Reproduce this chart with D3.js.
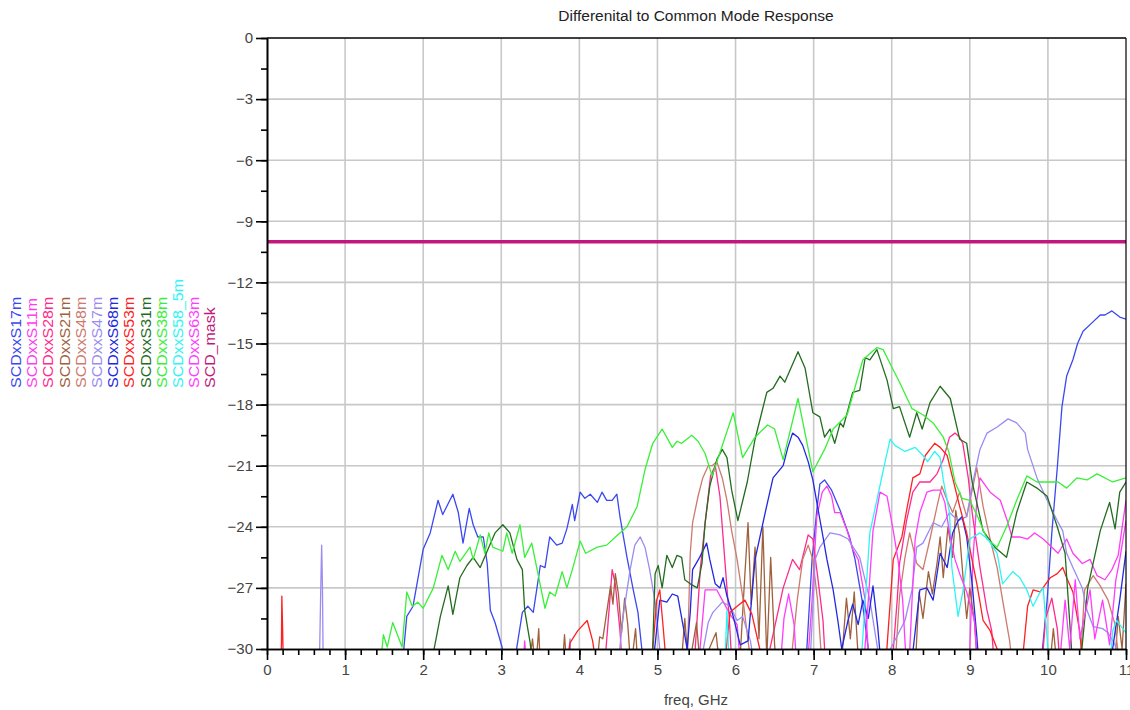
<!DOCTYPE html>
<html>
<head>
<meta charset="utf-8">
<script src="https://cdn.jsdelivr.net/npm/d3@7"></script>
<style>
  body { margin: 0; background: #fff; }
  text { font-family: "Liberation Sans", Arial, sans-serif; }
</style>
</head>
<body>
<svg id="chart" width="1130" height="710"></svg>
<script>
// values: [freq GHz, dB]; points below -30 are clipped away
const s17m = [[1.70,-32],[1.74,-30.5],[1.79,-28.4],[1.87,-27.9],[2.0,-25.1],[2.09,-24.3],[2.19,-22.7],[2.25,-23.4],[2.38,-22.4],[2.45,-23.3],[2.51,-24.8],[2.59,-23.1],[2.64,-23.9],[2.7,-24.5],[2.77,-24.5],[2.82,-25.8],[2.86,-28.1],[2.92,-28.7],[3.01,-29.9],[3.06,-31.5],[3.15,-32],[3.2,-29.9],[3.27,-28.2],[3.34,-27.9],[3.41,-28.2],[3.5,-25.9],[3.56,-26.0],[3.62,-24.5],[3.71,-24.9],[3.78,-24.8],[3.84,-24.1],[3.91,-22.9],[3.94,-23.7],[4.01,-22.3],[4.07,-22.6],[4.14,-22.4],[4.23,-22.8],[4.29,-22.3],[4.35,-22.7],[4.42,-22.7],[4.48,-22.4],[4.52,-23.5],[4.61,-25.5],[4.69,-27.1],[4.75,-28.2],[4.8,-30.0],[4.86,-32],[6.0,-34],[6.89,-31.5],[6.98,-25.6],[7.04,-23.2],[7.08,-21.9],[7.14,-21.7],[7.23,-22.2],[7.34,-23.2],[7.46,-24.5],[7.53,-25.6],[7.62,-27.6],[7.7,-30],[7.76,-32],[9.0,-34],[9.88,-32],[9.93,-30],[9.99,-27.6],[10.05,-24.3],[10.12,-21.1],[10.18,-18.1],[10.24,-16.6],[10.32,-15.8],[10.38,-15.0],[10.45,-14.4],[10.56,-14.0],[10.67,-13.6],[10.73,-13.6],[10.82,-13.4],[10.92,-13.7],[11.0,-13.8]];

const s11m = [[3.27,-31.5],[3.3,-29.6],[3.33,-31.5],[5.5,-32],[5.61,-27.1],[5.7,-27.1],[5.76,-27.1],[5.83,-27.6],[5.93,-28.3],[6.02,-28.8],[6.08,-31.5],[6.9,-32],[6.98,-27.6],[7.04,-23.5],[7.11,-22.3],[7.17,-22.0],[7.23,-22.5],[7.27,-23.3],[7.34,-23.3],[7.43,-24.2],[7.5,-25.1],[7.57,-25.6],[7.66,-27.6],[7.73,-32],[8.95,-32],[9.0,-30],[9.04,-25.6],[9.09,-22.7],[9.13,-21.6],[9.26,-22.3],[9.39,-22.7],[9.48,-23.7],[9.54,-24.5],[9.64,-24.5],[9.74,-24.6],[9.83,-24.3],[9.94,-24.6],[10.05,-25.0],[10.13,-25.3],[10.24,-24.6],[10.32,-25.3],[10.44,-25.8],[10.54,-25.6],[10.63,-26.4],[10.73,-26.6],[10.82,-26.1],[10.9,-25.4],[11.0,-22.7]];

const s28m = [[4.3,-32],[4.39,-27.6],[4.42,-26.1],[4.46,-26.8],[4.52,-29.1],[4.57,-32],[5.45,-32],[5.55,-26.0],[5.62,-23.5],[5.68,-21.5],[5.74,-21.0],[5.8,-22.5],[5.86,-25.5],[5.92,-28.5],[5.97,-32],[6.4,-32],[6.44,-30],[6.61,-27],[6.73,-25.6],[6.82,-26.1],[6.93,-24.4],[6.99,-24.6],[7.05,-26.4],[7.12,-28.6],[7.17,-32],[7.98,-32],[8.07,-27.6],[8.1,-25.8],[8.19,-23.7],[8.27,-22.3],[8.36,-21.8],[8.49,-21.8],[8.58,-21.4],[8.66,-20.7],[8.74,-19.6],[8.81,-19.4],[8.87,-19.6],[8.91,-19.9],[8.98,-21.6],[9.03,-23.3],[9.13,-26.0],[9.22,-28.1],[9.28,-29.1],[9.34,-32],[9.9,-32],[9.97,-28.5],[10.05,-27.5],[10.12,-29],[10.18,-32]];

const s21m = [[3.35,-31],[3.4,-29.5],[3.44,-31],[3.48,-29],[3.5,-31],[3.78,-31],[3.81,-29.3],[3.84,-31],[4.22,-31],[4.26,-29.4],[4.3,-29.5],[4.35,-28.2],[4.4,-26.9],[4.43,-27.8],[4.46,-26.3],[4.5,-27.3],[4.54,-29.2],[4.58,-27.5],[4.62,-28.8],[4.66,-31],[4.72,-29],[4.75,-31],[5.3,-31],[5.35,-28.5],[5.4,-31],[5.5,-28.7],[5.55,-31],[5.75,-29.2],[5.8,-31],[6.05,-31],[6.12,-26.3],[6.16,-23.8],[6.2,-27.8],[6.25,-25.0],[6.3,-29.5],[6.35,-24.0],[6.4,-30.5],[6.45,-25.5],[6.5,-29.8],[6.53,-31],[7.35,-31],[7.42,-27.5],[7.47,-29.5],[7.52,-27.2],[7.58,-31],[8.3,-31],[8.35,-27.2],[8.4,-28.5],[8.47,-26.2],[8.52,-27.3],[8.58,-25.8],[8.62,-24.5],[8.66,-26.5],[8.72,-24.0],[8.78,-25.5],[8.82,-23.2],[8.87,-24.4],[8.92,-26.8],[8.96,-28.5],[9.0,-27.0],[9.06,-28.7],[9.1,-31],[10.02,-31],[10.07,-29],[10.12,-31],[10.85,-31],[10.9,-28.4],[10.95,-30],[11.0,-26.8]];

const s48m = [[5.38,-31],[5.42,-25.3],[5.45,-23.8],[5.52,-22.5],[5.58,-21.6],[5.65,-21.0],[5.7,-21.0],[5.76,-20.8],[5.83,-21.6],[5.89,-22.7],[5.95,-24.2],[6.02,-25.6],[6.09,-27.4],[6.16,-29.6],[6.21,-31],[6.7,-31],[6.79,-27.6],[6.86,-25.6],[6.93,-24.9],[6.99,-25.6],[7.05,-27.6],[7.11,-31],[8.04,-31],[8.1,-27.4],[8.17,-25.5],[8.23,-24.3],[8.32,-25.8],[8.4,-26.1],[8.49,-24.6],[8.58,-23.0],[8.64,-22.0],[8.71,-22.7],[8.78,-23.3],[8.87,-22.3],[8.96,-23.5],[9.09,-21.1],[9.17,-23.0],[9.26,-24.6],[9.35,-26.0],[9.42,-27.6],[9.51,-29.6],[9.55,-31],[10.41,-31],[10.47,-27.1],[10.58,-26.4],[10.67,-26.9],[10.77,-27.6],[10.86,-28.8],[10.92,-31]];

const s47m = [[0.67,-31],[0.69,-26.7],[0.7,-24.9],[0.71,-26.9],[0.72,-31],[3.85,-31],[3.88,-29.5],[3.9,-31],[4.49,-31],[4.56,-28.4],[4.65,-26.1],[4.71,-24.9],[4.78,-24.5],[4.84,-25.0],[4.9,-26.1],[4.97,-27.7],[5.03,-30],[5.07,-31],[5.54,-31],[5.65,-28.7],[5.71,-28.2],[5.83,-27.7],[5.93,-27.9],[6.02,-28.6],[6.09,-28.4],[6.19,-29.6],[6.25,-31],[6.95,-31],[7.02,-25.6],[7.08,-25.0],[7.21,-24.3],[7.34,-24.4],[7.44,-24.6],[7.59,-25.5],[7.72,-27.6],[7.82,-30],[7.85,-31],[8.17,-28.6],[8.26,-27.1],[8.32,-25],[8.4,-24.8],[8.53,-23.8],[8.64,-24.0],[8.74,-23.3],[8.85,-23.7],[8.96,-23.5],[9.04,-21.8],[9.13,-20.2],[9.22,-19.4],[9.35,-19.1],[9.49,-18.7],[9.6,-18.9],[9.71,-19.4],[9.74,-20.2],[9.86,-21.6],[9.99,-22.7],[10.12,-23.7],[10.19,-24.2],[10.24,-25.3],[10.32,-26.0],[10.44,-27.0],[10.5,-28.1],[10.58,-28.9],[10.7,-29.0],[10.77,-29.2],[10.86,-29.8],[10.92,-31]];

const s68m = [[4.85,-32],[4.95,-30.5],[5.03,-27.6],[5.12,-27.7],[5.19,-27.3],[5.26,-27.4],[5.33,-28.9],[5.38,-30.0],[5.42,-28.2],[5.45,-26.1],[5.54,-25.5],[5.63,-24.8],[5.67,-25.6],[5.74,-26.8],[5.8,-27.0],[5.84,-26.5],[5.89,-27.4],[5.97,-28.4],[6.06,-29.8],[6.16,-29.6],[6.25,-25.6],[6.38,-23.3],[6.48,-21.6],[6.61,-21.0],[6.67,-20.1],[6.73,-19.4],[6.8,-19.6],[6.86,-20.0],[6.93,-20.8],[6.99,-21.7],[7.05,-23.0],[7.12,-24.5],[7.17,-25.6],[7.25,-27.1],[7.31,-28.6],[7.36,-30.0],[7.44,-28.6],[7.5,-27.8],[7.57,-28.8],[7.63,-27.6],[7.7,-28.5],[7.76,-26.9],[7.82,-28.9],[7.88,-31.5],[8.2,-32],[8.26,-30.5],[8.36,-27.1],[8.45,-27.0],[8.53,-27.6],[8.62,-25.3],[8.71,-26.0],[8.78,-24.3],[8.85,-23.7],[8.9,-23.5],[8.96,-24.5],[9.03,-26.8],[9.09,-29.4],[9.14,-32],[10.5,-34],[10.79,-31],[10.92,-27.6],[11.0,-25.2]];

const s53m = [[0.17,-31],[0.185,-29.8],[0.19,-27.4],[0.2,-29.0],[0.21,-31],[3.8,-32],[3.88,-29.7],[3.98,-29.1],[4.1,-28.6],[4.17,-29.6],[4.24,-31.5],[4.9,-32],[4.99,-27.6],[5.03,-27.1],[5.07,-28.8],[5.13,-31.5],[5.84,-31.5],[5.93,-28.2],[6.02,-27.9],[6.12,-27.6],[6.21,-28.3],[6.31,-30],[6.38,-31.5],[7.9,-32],[8.02,-25.6],[8.13,-24.5],[8.19,-23.2],[8.27,-21.6],[8.36,-21.4],[8.43,-20.5],[8.49,-20.2],[8.55,-19.9],[8.62,-20.1],[8.71,-20.5],[8.78,-21.6],[8.87,-23.0],[8.96,-24.3],[9.09,-26.8],[9.17,-28.6],[9.26,-29.1],[9.35,-30],[9.4,-31.5],[9.65,-31.5],[9.74,-27.9],[9.81,-27.1],[9.9,-27.2],[10.03,-26.5],[10.12,-26.3],[10.19,-26.0],[10.24,-26.5],[10.32,-27.2],[10.41,-29.2],[10.46,-31.5]];

const s31m = [[2.09,-31],[2.22,-28.4],[2.32,-26.9],[2.38,-28.3],[2.47,-26.5],[2.56,-25.9],[2.64,-25.5],[2.73,-26.0],[2.83,-25.1],[2.92,-24.3],[3.02,-23.9],[3.11,-24.3],[3.2,-25.6],[3.27,-26.1],[3.3,-28.1],[3.37,-29.7],[3.41,-31],[4.2,-33],[4.93,-31],[4.97,-26.3],[5.01,-25.9],[5.06,-27.0],[5.12,-25.4],[5.19,-26.0],[5.25,-25.4],[5.31,-25.5],[5.35,-26.6],[5.42,-26.8],[5.51,-27.0],[5.57,-25.8],[5.61,-23.8],[5.67,-22.0],[5.76,-20.7],[5.83,-20.2],[5.89,-20.6],[5.95,-22.2],[6.03,-23.7],[6.15,-21.8],[6.25,-19.7],[6.4,-17.4],[6.48,-17.2],[6.57,-16.6],[6.63,-16.9],[6.8,-15.4],[6.89,-16.2],[6.99,-18.4],[7.08,-18.6],[7.14,-19.6],[7.21,-19.2],[7.27,-19.9],[7.34,-18.9],[7.38,-19.1],[7.5,-17.4],[7.59,-17.3],[7.66,-15.7],[7.72,-15.8],[7.81,-15.3],[7.94,-16.8],[8.02,-18.2],[8.1,-18.1],[8.23,-19.6],[8.32,-18.4],[8.39,-19.2],[8.49,-17.9],[8.62,-17.1],[8.75,-17.7],[8.87,-19.7],[8.96,-19.9],[9.03,-21.8],[9.17,-24.2],[9.32,-25.0],[9.47,-25.5],[9.6,-23.3],[9.73,-21.8],[9.86,-22.1],[9.99,-22.5],[10.12,-24.0],[10.22,-25.3],[10.32,-31],[10.41,-31],[10.51,-27.0],[10.67,-24.2],[10.79,-22.8],[10.86,-24.1],[10.92,-22.3],[11.0,-21.8]];

const s38m = [[1.45,-31],[1.49,-29.3],[1.54,-29.9],[1.61,-28.7],[1.73,-29.9],[1.79,-27.2],[1.86,-27.9],[1.93,-27.7],[2.0,-28.0],[2.13,-27.0],[2.24,-25.4],[2.32,-26.1],[2.41,-25.2],[2.47,-25.7],[2.6,-25.0],[2.64,-25.6],[2.73,-24.4],[2.79,-25.3],[2.84,-24.3],[2.89,-25.0],[3.02,-25.2],[3.07,-24.3],[3.14,-25.3],[3.24,-23.9],[3.3,-25.5],[3.39,-24.8],[3.47,-26.3],[3.56,-28.0],[3.62,-27.2],[3.69,-27.4],[3.78,-26.2],[3.84,-27.0],[3.91,-26.1],[4.01,-24.7],[4.08,-25.3],[4.23,-25.0],[4.35,-24.9],[4.49,-24.4],[4.61,-24.0],[4.74,-23.0],[4.84,-21.2],[4.94,-19.9],[5.06,-19.2],[5.19,-20.1],[5.25,-19.8],[5.31,-19.9],[5.44,-19.5],[5.52,-19.8],[5.61,-20.4],[5.7,-21.5],[5.77,-20.7],[5.97,-18.4],[6.09,-20.6],[6.25,-19.6],[6.41,-19.0],[6.5,-19.2],[6.61,-20.7],[6.8,-17.7],[6.99,-21.3],[7.14,-20.2],[7.25,-19.2],[7.43,-18.5],[7.63,-15.8],[7.81,-15.2],[7.89,-15.3],[8.02,-16.3],[8.1,-16.9],[8.26,-18.2],[8.4,-18.5],[8.53,-18.9],[8.66,-19.6],[8.73,-20.3],[8.81,-21.8],[8.9,-22.6],[9.0,-22.7],[9.1,-23.5],[9.22,-24.6],[9.35,-25.0],[9.47,-24.0],[9.6,-22.7],[9.73,-21.5],[9.86,-21.8],[9.99,-21.8],[10.13,-21.8],[10.24,-22.1],[10.37,-21.6],[10.5,-21.7],[10.63,-21.4],[10.83,-21.8],[11.0,-21.6]];

const s58_5m = [[5.86,-31],[5.89,-28.1],[5.92,-31],[7.55,-32],[7.62,-30],[7.72,-24.3],[7.82,-22.5],[7.91,-20.9],[7.98,-19.7],[8.04,-20.0],[8.17,-20.3],[8.3,-20.1],[8.4,-20.5],[8.46,-20.8],[8.55,-20.3],[8.62,-20.6],[8.66,-21.7],[8.74,-23.3],[8.77,-26.0],[8.85,-28.4],[8.91,-27.2],[9.0,-24.6],[9.13,-24.3],[9.23,-24.6],[9.35,-25.3],[9.42,-26.8],[9.55,-26.2],[9.64,-26.5],[9.73,-27.1],[9.81,-27.9],[9.9,-27.2],[9.94,-27.0],[10.0,-30],[10.03,-31],[10.79,-31],[10.83,-29.1],[10.88,-28.6],[10.92,-28.8],[11.0,-29.2]];

const s63m = [[6.55,-32],[6.62,-28.5],[6.68,-27.3],[6.75,-28.8],[6.8,-32],[7.62,-32],[7.7,-27.6],[7.76,-24.2],[7.85,-22.3],[7.94,-22.5],[8.02,-24.2],[8.08,-25.6],[8.14,-27.6],[8.19,-31],[8.22,-31],[8.26,-27.6],[8.3,-24.6],[8.36,-23.3],[8.45,-22.3],[8.53,-22.2],[8.62,-22.2],[8.68,-22.8],[8.74,-24.3],[8.81,-25.6],[8.87,-26.3],[8.96,-27.2],[9.06,-28.6],[9.12,-32],[10.12,-32],[10.22,-27.6],[10.28,-30],[10.35,-26.6],[10.41,-29.5],[10.54,-27.1],[10.6,-29.5],[10.7,-27.6],[10.79,-29.8],[10.87,-26.6],[10.92,-25.6],[11.0,-23.7]];

const maskLevel = -10;
const maskFreq = [0, 11];

const seriesNames = ['SCDxxS17m', 'SCDxxS11m', 'SCDxxS28m', 'SCDxxS21m', 'SCDxxS48m', 'SCDxxS47m',
  'SCDxxS68m', 'SCDxxS53m', 'SCDxxS31m', 'SCDxxS38m', 'SCDxxS58_5m', 'SCDxxS63m', 'SCD_mask'];
const seriesColors = ['#3a48f0', '#ff3cf0', '#ff2a8c', '#a0603c', '#cc7a6e', '#9b8cf2',
  '#2228e0', '#ff2020', '#236b1f', '#38f038', '#2ef5f5', '#ff3cff', '#c0187c'];
const seriesData = [s17m, s11m, s28m, s21m, s48m, s47m, s68m, s53m, s31m, s38m, s58_5m, s63m];

const xTicks = [0, 1, 2, 3, 4, 5, 6, 7, 8, 9, 10, 11];
const yTicks = [0, -3, -6, -9, -12, -15, -18, -21, -24, -27, -30];
const titleText = 'Differenital to Common Mode Response';
const xLabel = 'freq, GHz';

(() => {
  const svg = d3.select('#chart');
  const plotLeft = 267, plotRight = 1126, plotTop = 38, plotBottom = 649;
  const x = d3.scaleLinear().domain([0, 11]).range([plotLeft, plotRight]);
  const y = d3.scaleLinear().domain([-30, 0]).range([plotBottom, plotTop]);

  svg.append('rect').attr('width', 1130).attr('height', 710).attr('fill', '#fff');

  // grid
  svg.append('g').selectAll('line')
    .data(xTicks.slice(1, -1))
    .enter().append('line')
    .attr('x1', d => x(d)).attr('x2', d => x(d))
    .attr('y1', plotTop).attr('y2', plotBottom)
    .attr('stroke', '#c8c8c8').attr('stroke-width', 1.6);
  svg.append('g').selectAll('line')
    .data(yTicks.slice(1, -1))
    .enter().append('line')
    .attr('x1', plotLeft).attr('x2', plotRight)
    .attr('y1', d => y(d)).attr('y2', d => y(d))
    .attr('stroke', '#c8c8c8').attr('stroke-width', 1.6);

  // traces
  svg.append('clipPath').attr('id', 'plotClip')
    .append('rect').attr('x', plotLeft).attr('y', plotTop)
    .attr('width', plotRight - plotLeft).attr('height', plotBottom - plotTop);

  const line = d3.line().x(d => x(d[0])).y(d => y(d[1]));
  const traces = svg.append('g').attr('clip-path', 'url(#plotClip)');
  seriesData.forEach((data, i) => {
    traces.append('path')
      .datum(data)
      .attr('d', line)
      .attr('fill', 'none')
      .attr('stroke', seriesColors[i])
      .attr('stroke-width', 1.3)
      .attr('stroke-linejoin', 'round');
  });
  traces.append('line')
    .attr('x1', x(maskFreq[0])).attr('x2', x(maskFreq[1]))
    .attr('y1', y(maskLevel)).attr('y2', y(maskLevel))
    .attr('stroke', seriesColors[12]).attr('stroke-width', 3.5);

  // axes
  const minorX = d3.range(0, 11.001, 0.2);
  const minorY = d3.range(0, -30.001, -1.5);
  function styleAxis(g) {
    g.selectAll('.domain').attr('stroke', '#000').attr('stroke-width', 1.6);
    g.selectAll('.tick line').attr('stroke', '#000').attr('stroke-width', 1.6);
    g.selectAll('.tick text').attr('fill', '#444').style('font-size', '15px')
      .style('font-family', '"Liberation Sans", Arial, sans-serif');
  }
  svg.append('g').attr('transform', `translate(0,${plotBottom})`)
    .call(d3.axisBottom(x).tickValues(minorX).tickSize(6).tickFormat('').tickSizeOuter(0))
    .call(styleAxis);
  svg.append('g').attr('transform', `translate(0,${plotBottom})`)
    .call(d3.axisBottom(x).tickValues(xTicks).tickSize(11).tickPadding(4)
      .tickFormat(d3.format('d')).tickSizeOuter(0))
    .call(styleAxis);
  svg.append('g').attr('transform', `translate(${plotLeft},0)`)
    .call(d3.axisLeft(y).tickValues(minorY).tickSize(6).tickFormat('').tickSizeOuter(0))
    .call(styleAxis);
  svg.append('g').attr('transform', `translate(${plotLeft},0)`)
    .call(d3.axisLeft(y).tickValues(yTicks).tickSize(11).tickPadding(3)
      .tickFormat(d3.format('d')).tickSizeOuter(0))
    .call(styleAxis);

  // frame top/right
  svg.append('line').attr('x1', plotLeft).attr('x2', plotRight)
    .attr('y1', plotTop).attr('y2', plotTop)
    .attr('stroke', '#000').attr('stroke-width', 1.6);
  svg.append('line').attr('x1', plotRight).attr('x2', plotRight)
    .attr('y1', plotTop).attr('y2', plotBottom)
    .attr('stroke', '#000').attr('stroke-width', 1.2);

  // title and axis label
  svg.append('text').attr('x', 696).attr('y', 21).attr('text-anchor', 'middle')
    .attr('fill', '#222').style('font-size', '15.5px').text(titleText);
  svg.append('text').attr('x', 696).attr('y', 705).attr('text-anchor', 'middle')
    .attr('fill', '#444').style('font-size', '15px').text(xLabel);

  // legend: rotated labels, slightly stretched along their length
  svg.append('g').selectAll('text')
    .data(seriesNames)
    .enter().append('text')
    .attr('transform', (d, i) => `translate(${16 + i * 16.2},388) rotate(-90) scale(1.1,1)`)
    .attr('dy', '0.35em')
    .attr('fill', (d, i) => seriesColors[i])
    .style('font-size', '14.5px')
    .text(d => d);
})();
</script>
</body>
</html>
